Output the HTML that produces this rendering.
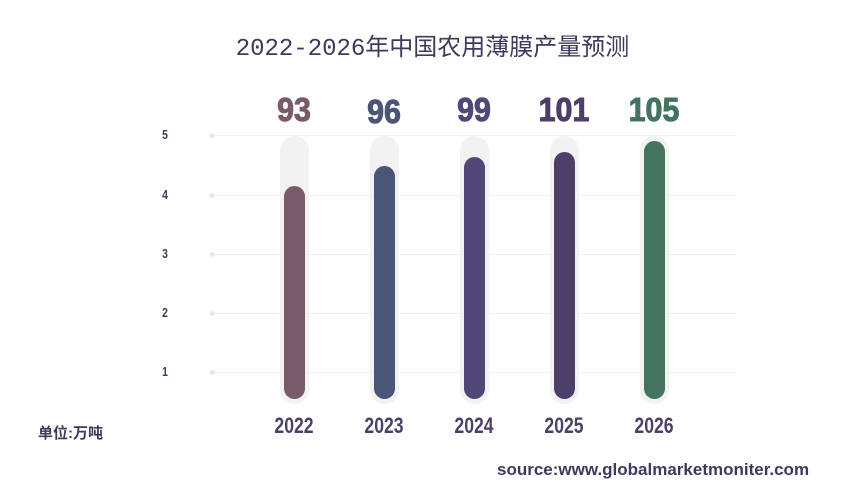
<!DOCTYPE html>
<html><head><meta charset="utf-8"><style>
body{margin:0;width:865px;height:487px;background:#fff;overflow:hidden;font-family:"Liberation Sans","Noto Sans CJK SC",sans-serif}
.t{position:absolute;white-space:nowrap}
.c{font-weight:bold;transform:scaleX(0.8);transform-origin:center}
.v{font-weight:bold;transform:scaleX(0.92);transform-origin:center;-webkit-text-stroke:1px currentColor}
</style></head><body>
<div class="t" style="left:0;width:865px;top:27px;text-align:center;font-size:24px;color:#3d3a5c;font-family:'Liberation Mono','Noto Sans CJK SC',sans-serif">2022-2026年中国农用薄膜产量预测</div>
<svg width="865" height="487" style="position:absolute;left:0;top:0">
<g stroke="#f0f0f0" stroke-width="1">
<line x1="212" x2="736" y1="135.5" y2="135.5"/><line x1="212" x2="736" y1="195.5" y2="195.5"/><line x1="212" x2="736" y1="254.5" y2="254.5"/><line x1="212" x2="736" y1="313.5" y2="313.5"/><line x1="212" x2="736" y1="372.5" y2="372.5"/>
</g>
<g fill="#e8e8e8"><circle cx="212" cy="135.5" r="2.5"/><circle cx="212" cy="195.5" r="2.5"/><circle cx="212" cy="254.5" r="2.5"/><circle cx="212" cy="313.5" r="2.5"/><circle cx="212" cy="372.5" r="2.5"/></g>
<g fill="#f2f2f2">
<rect x="280" y="136" width="29" height="268" rx="14.5"/><rect x="370" y="136" width="29" height="268" rx="14.5"/><rect x="460" y="136" width="29" height="268" rx="14.5"/><rect x="550" y="136" width="29" height="268" rx="14.5"/><rect x="640" y="136" width="29" height="268" rx="14.5"/>
</g>
<rect x="284" y="186" width="21" height="213" rx="10.5" fill="#785a68"/>
<rect x="374" y="166" width="21" height="233" rx="10.5" fill="#4a5678"/>
<rect x="464" y="157" width="21" height="242" rx="10.5" fill="#524878"/>
<rect x="554" y="152" width="21" height="247" rx="10.5" fill="#4c3f6a"/>
<rect x="644" y="141" width="21" height="258" rx="10.5" fill="#44735f"/>
</svg>
<div class="t c" style="left:150px;width:30px;text-align:center;top:127px;font-size:13px;color:#3d3a5c">5</div>
<div class="t c" style="left:150px;width:30px;text-align:center;top:187px;font-size:13px;color:#3d3a5c">4</div>
<div class="t c" style="left:150px;width:30px;text-align:center;top:246px;font-size:13px;color:#3d3a5c">3</div>
<div class="t c" style="left:150px;width:30px;text-align:center;top:305px;font-size:13px;color:#3d3a5c">2</div>
<div class="t c" style="left:150px;width:30px;text-align:center;top:364px;font-size:13px;color:#3d3a5c">1</div>
<div class="t v" style="left:254px;width:80px;text-align:center;top:91px;font-size:33px;color:#785a68">93</div>
<div class="t v" style="left:344px;width:80px;text-align:center;top:93px;font-size:33px;color:#4a5678">96</div>
<div class="t v" style="left:434px;width:80px;text-align:center;top:91px;font-size:33px;color:#524878">99</div>
<div class="t v" style="left:524px;width:80px;text-align:center;top:91px;font-size:33px;color:#4c3f6a">101</div>
<div class="t v" style="left:614px;width:80px;text-align:center;top:91px;font-size:33px;color:#44735f">105</div>
<div class="t c" style="left:254px;width:80px;text-align:center;top:413px;font-size:22px;color:#4c3f6a">2022</div>
<div class="t c" style="left:344px;width:80px;text-align:center;top:413px;font-size:22px;color:#4c3f6a">2023</div>
<div class="t c" style="left:434px;width:80px;text-align:center;top:413px;font-size:22px;color:#4c3f6a">2024</div>
<div class="t c" style="left:524px;width:80px;text-align:center;top:413px;font-size:22px;color:#4c3f6a">2025</div>
<div class="t c" style="left:614px;width:80px;text-align:center;top:413px;font-size:22px;color:#4c3f6a">2026</div>
<div class="t" style="left:38px;top:422px;font-size:15px;font-weight:bold;color:#3d3a5c">单位:万吨</div>
<div class="t" style="left:497px;top:460px;font-size:17px;font-weight:bold;color:#3d3a5c">source:www.globalmarketmoniter.com</div>
</body></html>
